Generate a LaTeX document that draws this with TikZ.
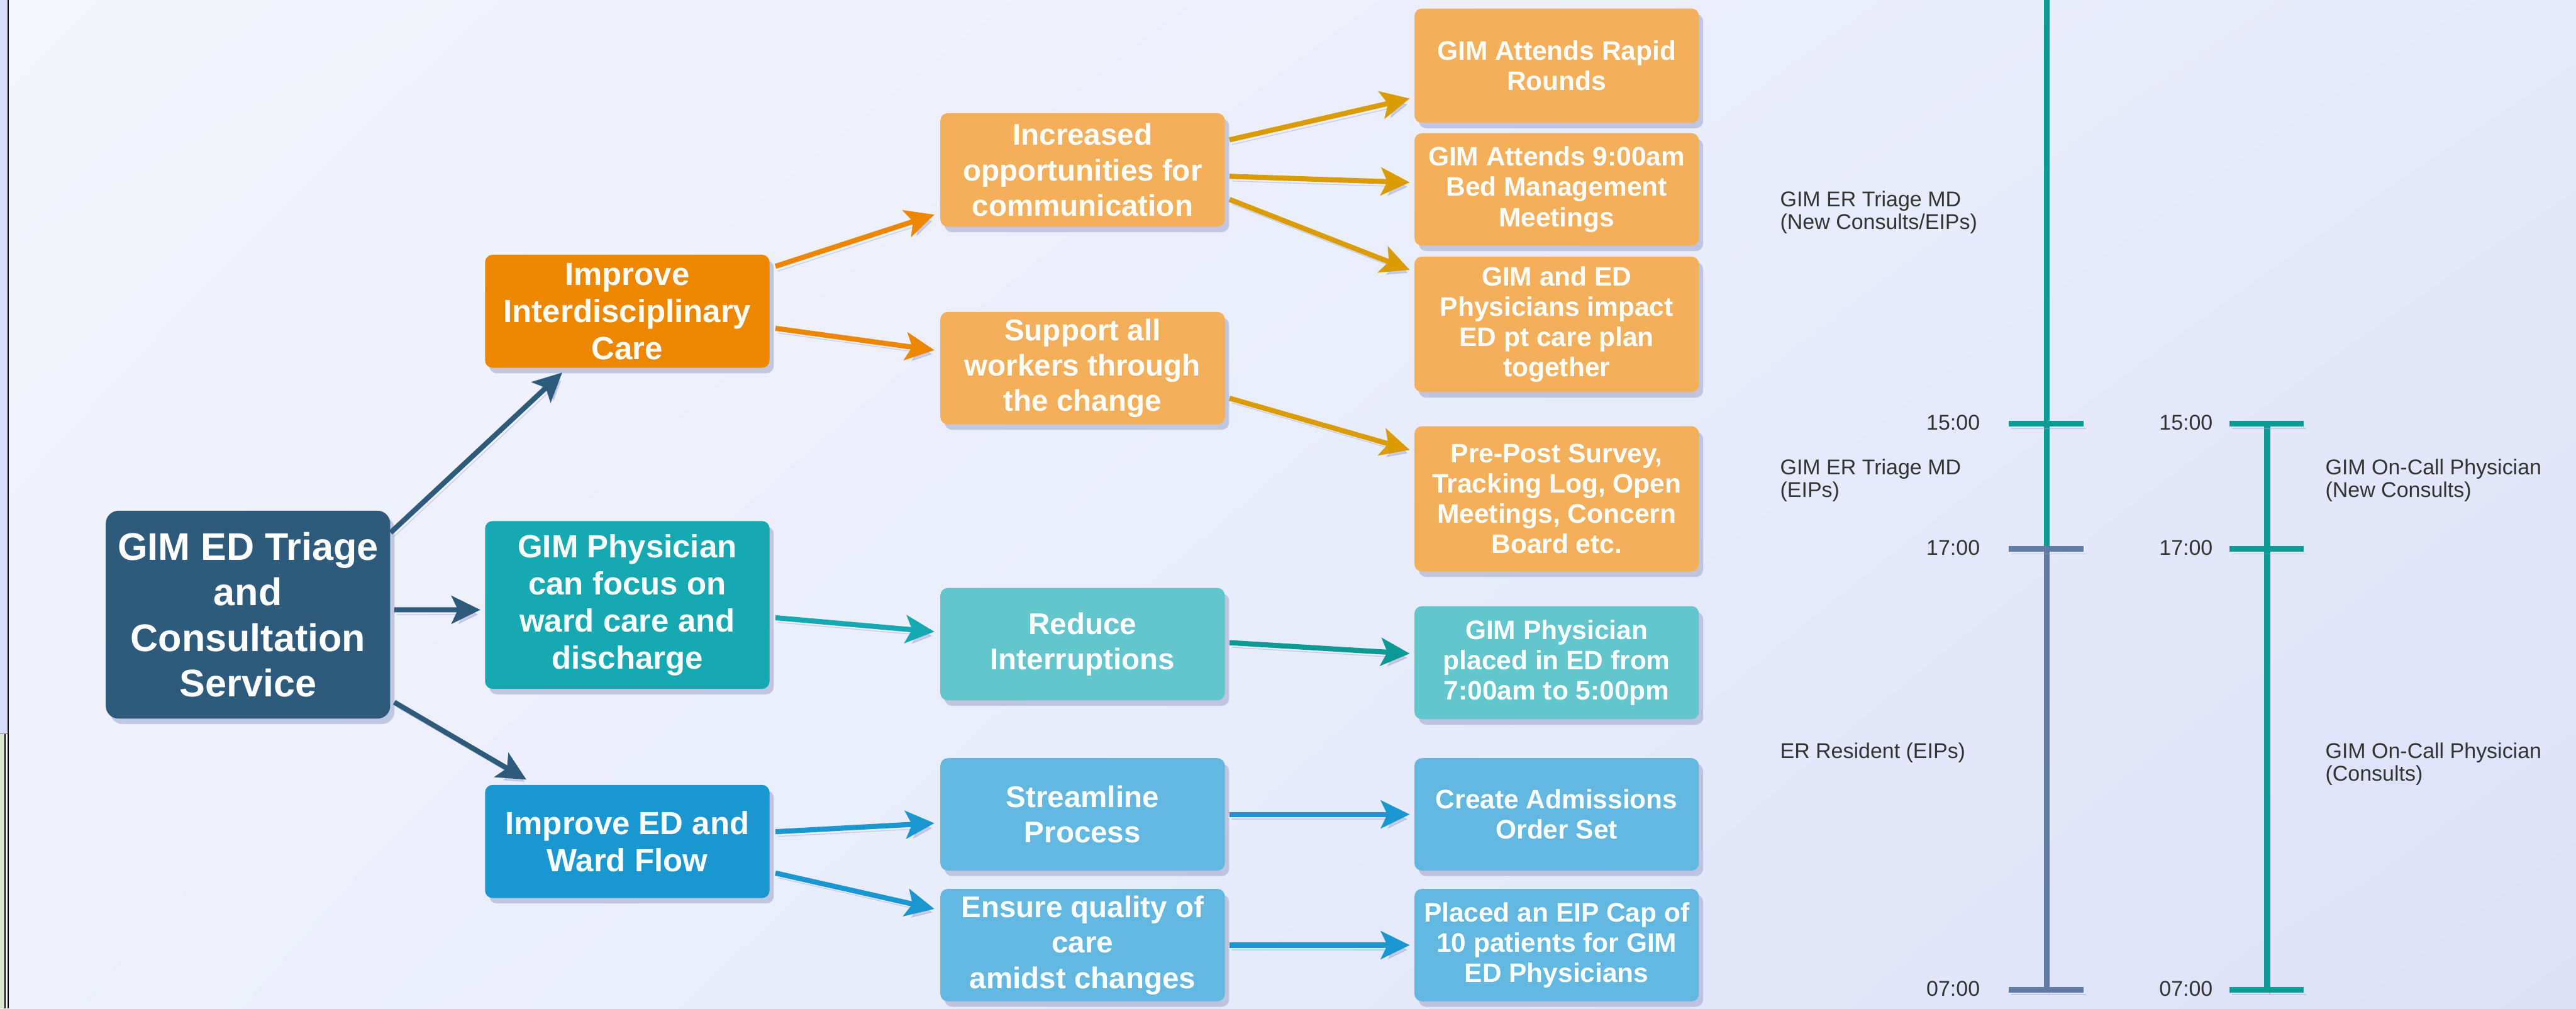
\documentclass[tikz,border=0pt]{standalone}
\usepackage{fontspec}
\setmainfont{Liberation Sans}
\usetikzlibrary{arrows.meta,shadows,shadings}

\begin{document}
\begin{tikzpicture}[
		box/.style={rounded corners=3.5pt, align=center, text=white, inner sep=0pt,
			minimum width=4.68cm,
			drop shadow={shadow xshift=0.07cm, shadow yshift=-0.09cm, fill=shadowc, opacity=0.55}},
		rootbox/.style={box, rounded corners=6pt, fill=rootblue, minimum height=3.42cm,
			font=\bfseries\fontsize{18}{21.3}\selectfont},
		lvlone/.style={box, font=\bfseries\fontsize{15}{17.4}\selectfont},
		lvltwo/.style={box, font=\bfseries\fontsize{14}{16.6}\selectfont},
		lvlthree/.style={box, font=\bfseries\fontsize{12.5}{14.2}\selectfont},
		lineshadow/.style={preaction={draw=shadowc, opacity=0.45, transform canvas={xshift=1.2pt,yshift=-2.2pt}}},
		arr/.style={-{Stealth[length=13.5pt,width=13pt,inset=3pt]}, line width=2.4pt, lineshadow},
		bar/.style={line width=2.7pt, lineshadow},
		timelbl/.style={anchor=east, inner sep=0pt, text=labelc, font=\fontsize{10}{10.5}\selectfont},
		rolelbl/.style={anchor=west, inner sep=0pt, align=left, text=labelc, font=\fontsize{10}{10.5}\selectfont}
	]
			% Define colors
			\definecolor{rootblue}{HTML}{2E5B7C}
			\definecolor{orangeA}{HTML}{EE8700}
			\definecolor{orangeB}{HTML}{F4AF5A}
			\definecolor{orangeArr}{HTML}{DA9C00}
			\definecolor{tealA}{HTML}{17A9B1}
			\definecolor{tealB}{HTML}{62C6CC}
			\definecolor{tealArr}{HTML}{0E9A94}
			\definecolor{blueA}{HTML}{1A97D1}
			\definecolor{blueB}{HTML}{62B8E0}
			\definecolor{slate}{HTML}{5F7AA3}
			\definecolor{shadowc}{HTML}{9EA6CC}
			\definecolor{labelc}{HTML}{333333}
			\definecolor{bgTL}{HTML}{F4F6FD}
			\definecolor{bgTR}{HTML}{E6E9FA}
			\definecolor{bgBL}{HTML}{EEF1FB}
			\definecolor{bgBR}{HTML}{DDE1F8}
			\definecolor{stripA}{HTML}{D9DCF6}
			\definecolor{stripB}{HTML}{DAE8D0}

			% Page and background
			\useasboundingbox (0,-16.59) rectangle (42.38,0);
			\shade[upper left=bgTL, upper right=bgTR, lower left=bgBL, lower right=bgBR] (0,-16.59) rectangle (42.38,0);
			\fill[stripA] (0,0) rectangle (0.12,-12.07);
			\fill[stripB] (0,-12.07) rectangle (0.07,-16.59);
			\fill[white] (0.09,-12.07) rectangle (0.12,-16.59);
			\fill[black] (0.07,-12.07) rectangle (0.09,-16.59);
			\fill[black] (0.12,0) rectangle (0.14,-16.59);
			\draw[gray, line width=0.5pt] (0,-12.07) -- (0.12,-12.07);

			% Root
			\node[rootbox] (root) at (4.08,-10.11) {GIM ED Triage\\and\\Consultation\\Service};

			% First level
			\node[lvlone, fill=orangeA, minimum height=1.86cm] (care) at (10.32,-5.12) {Improve\\Interdisciplinary\\Care};
			\node[lvlone, fill=tealA, minimum height=2.76cm] (focus) at (10.32,-9.95) {GIM Physician\\can focus on\\ward care and\\discharge};
			\node[lvlone, fill=blueA, minimum height=1.86cm] (flow) at (10.32,-13.84) {Improve ED and\\Ward Flow};

			% Second level
			\node[lvltwo, fill=orangeB, minimum height=1.87cm] (comm) at (17.81,-2.795) {Increased\\opportunities for\\communication};
			\node[lvltwo, fill=orangeB, minimum height=1.85cm] (support) at (17.81,-6.055) {Support all\\workers through\\the change};
			\node[lvltwo, fill=tealB, minimum height=1.85cm] (interrupt) at (17.81,-10.595) {Reduce\\Interruptions};
			\node[lvltwo, fill=blueB, minimum height=1.85cm] (stream) at (17.81,-13.395) {Streamline\\Process};
			\node[lvltwo, fill=blueB, minimum height=1.85cm] (quality) at (17.81,-15.545) {Ensure quality of\\care\\amidst changes};

			% Third level
			\node[lvlthree, fill=orangeB, minimum height=1.88cm] (rounds) at (25.61,-1.08) {GIM Attends Rapid\\Rounds};
			\node[lvlthree, fill=orangeB, minimum height=1.85cm] (bedmtg) at (25.61,-3.115) {GIM Attends 9:00am\\Bed Management\\Meetings};
			\node[lvlthree, fill=orangeB, minimum height=2.23cm] (plan) at (25.61,-5.335) {GIM and ED\\Physicians impact\\ED pt care plan\\together};
			\node[lvlthree, fill=orangeB, minimum height=2.39cm] (survey) at (25.61,-8.205) {Pre-Post Survey,\\Tracking Log, Open\\Meetings, Concern\\Board etc.};
			\node[lvlthree, fill=tealB, minimum height=1.86cm] (placed) at (25.61,-10.90) {GIM Physician\\placed in ED from\\7:00am to 5:00pm};
			\node[lvlthree, fill=blueB, minimum height=1.85cm] (orderset) at (25.61,-13.395) {Create Admissions\\Order Set};
			\node[lvlthree, fill=blueB, minimum height=1.85cm] (eipcap) at (25.61,-15.545) {Placed an EIP Cap of\\10 patients for GIM\\ED Physicians};

			% Root to first level
			\draw[arr, rootblue] ([yshift=1.35cm]root.east) -- ([xshift=-1.07cm,yshift=-0.07cm]care.south);
			\draw[arr, rootblue] ([xshift=0.06cm,yshift=0.08cm]root.east) -- ([xshift=-0.07cm,yshift=-0.08cm]focus.west);
			\draw[arr, rootblue] ([xshift=0.06cm,yshift=-1.44cm]root.east) -- ([xshift=-1.66cm,yshift=0.08cm]flow.north);

			% First to second level
			\draw[arr, orangeA] ([xshift=0.09cm,yshift=0.74cm]care.east) -- ([xshift=-0.09cm,yshift=-0.735cm]comm.west);
			\draw[arr, orangeA] ([xshift=0.09cm,yshift=-0.28cm]care.east) -- ([xshift=-0.09cm,yshift=0.295cm]support.west);
			\draw[arr, tealA] ([xshift=0.09cm,yshift=-0.21cm]focus.east) -- ([xshift=-0.09cm,yshift=0.205cm]interrupt.west);
			\draw[arr, blueA] ([xshift=0.09cm,yshift=0.16cm]flow.east) -- ([xshift=-0.09cm,yshift=-0.145cm]stream.west);
			\draw[arr, blueA] ([xshift=0.09cm,yshift=-0.52cm]flow.east) -- ([xshift=-0.09cm,yshift=0.595cm]quality.west);

			% Second to third level
			\draw[arr, orangeArr] ([xshift=0.07cm,yshift=0.495cm]comm.east) -- ([xshift=-0.07cm,yshift=-0.54cm]rounds.west);
			\draw[arr, orangeArr] ([xshift=0.07cm,yshift=-0.105cm]comm.east) -- ([xshift=-0.07cm,yshift=0.115cm]bedmtg.west);
			\draw[arr, orangeArr] ([xshift=0.07cm,yshift=-0.485cm]comm.east) -- ([xshift=-0.07cm,yshift=0.895cm]plan.west);
			\draw[arr, orangeArr] ([xshift=0.07cm,yshift=-0.495cm]support.east) -- ([xshift=-0.07cm,yshift=0.805cm]survey.west);
			\draw[arr, tealArr] ([xshift=0.07cm,yshift=0.025cm]interrupt.east) -- ([xshift=-0.07cm,yshift=0.15cm]placed.west);
			\draw[arr, blueA] ([xshift=0.07cm]stream.east) -- ([xshift=-0.07cm]orderset.west);
			\draw[arr, blueA] ([xshift=0.07cm]quality.east) -- ([xshift=-0.07cm]eipcap.west);

			% Shift bars
			\draw[bar, tealArr] (33.67,0) -- (33.67,-9.03);
			\draw[bar, slate] (33.67,-9.03) -- (33.67,-16.28);
			\draw[bar, tealArr] (33.05,-6.97) -- (34.28,-6.97);
			\draw[bar, slate] (33.05,-9.03) -- (34.28,-9.03);
			\draw[bar, slate] (33.05,-16.28) -- (34.28,-16.28);
			\draw[bar, tealArr] (37.30,-6.97) -- (37.30,-16.28);
			\draw[bar, tealArr] (36.68,-6.97) -- (37.90,-6.97);
			\draw[bar, tealArr] (36.68,-9.03) -- (37.90,-9.03);
			\draw[bar, tealArr] (36.68,-16.28) -- (37.90,-16.28);

			% Add labels
			\node[timelbl] (ta) at (32.58,-6.95) {15:00};
			\node[timelbl] (tb) at (32.58,-9.01) {17:00};
			\node[timelbl] (tc) at (32.58,-16.26) {07:00};
			\node[timelbl] (td) at (36.41,-6.95) {15:00};
			\node[timelbl] (te) at (36.41,-9.01) {17:00};
			\node[timelbl] (tf) at (36.41,-16.26) {07:00};
			\node[rolelbl] (triage) at (29.28,-3.495) {GIM ER Triage MD\\(New Consults/EIPs)};
			\node[rolelbl] (triageeip) at (29.28,-7.905) {GIM ER Triage MD\\(EIPs)};
			\node[rolelbl] (resident) at (29.28,-12.38) {ER Resident (EIPs)};
			\node[rolelbl] (oncallnew) at (38.25,-7.905) {GIM On-Call Physician\\(New Consults)};
			\node[rolelbl] (oncall) at (38.25,-12.565) {GIM On-Call Physician\\(Consults)};
		\end{tikzpicture}
\end{document}
